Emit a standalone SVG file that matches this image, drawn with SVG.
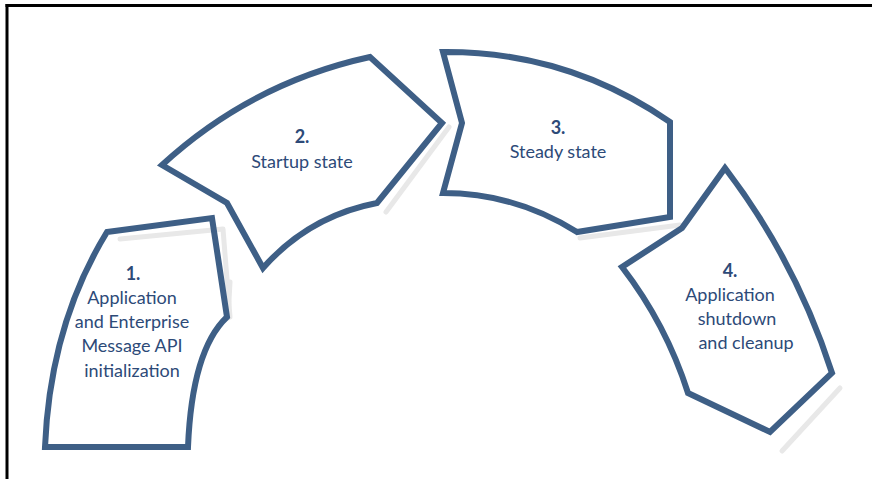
<svg xmlns="http://www.w3.org/2000/svg" width="872" height="479" viewBox="0 0 872 479">
<defs>
<style>
.shape{fill:none;stroke:#3e5f86;stroke-width:6;stroke-linejoin:miter;stroke-miterlimit:10}
.shadow{fill:none;stroke:#e8e8e8;stroke-width:5;stroke-linecap:round;stroke-linejoin:round}
.t{font-family:Lato,"Open Sans","Liberation Sans",sans-serif;font-size:18px;fill:#2d4a78;text-anchor:middle}
.b{font-weight:bold}
</style>
</defs>
<rect x="0" y="0" width="872" height="479" fill="#ffffff"/>
<g id="frame" stroke="#000" stroke-width="3" fill="none">
<line x1="5.5" y1="5.5" x2="872" y2="5.5"/>
<line x1="7" y1="4" x2="7" y2="479"/>
</g>
<g id="shadows">
<polyline class="shadow" points="120,239 223,229 230,317"/>
<line class="shadow" x1="228" y1="318" x2="230" y2="282"/>
<line class="shadow" x1="386" y1="212" x2="449" y2="127"/>
<line class="shadow" x1="580" y1="238" x2="680" y2="225"/>
<line class="shadow" x1="782" y1="451" x2="840" y2="388"/>
</g>
<g id="node1">
<path class="shape" d="M107,232 L212,218 L227,317 Q192,350 188,447 L45,447 Q50,325 107,232 Z"/>
<text class="t b" x="133" y="280">1.</text>
<text class="t" x="132" y="304">Application</text>
<text class="t" x="132" y="328">and Enterprise</text>
<text class="t" x="132" y="352">Message API</text>
<text class="t" x="132" y="377">initialization</text>
</g>
<g id="node2">
<path class="shape" d="M162,165 Q251,83 370,57 L442,123 L377,203 Q309,216 263,268 L227,203 Z"/>
<text class="t b" x="302" y="143">2.</text>
<text class="t" x="302" y="168">Startup state</text>
</g>
<g id="node3">
<path class="shape" d="M443,52 Q567,51 670,122 L670,217 L577,232 Q515,193 443,193 L462,123 Z"/>
<text class="t b" x="558" y="134">3.</text>
<text class="t" x="558" y="158">Steady state</text>
</g>
<g id="node4">
<path class="shape" d="M725,168 Q796,261 832,373 L770,432 L688,393 Q666,324 622,267 L682,228 Z"/>
<text class="t b" x="730" y="277">4.</text>
<text class="t" x="730" y="301">Application</text>
<text class="t" x="737" y="325">shutdown</text>
<text class="t" x="746" y="349">and cleanup</text>
</g>
<g id="connectors"></g>
</svg>
